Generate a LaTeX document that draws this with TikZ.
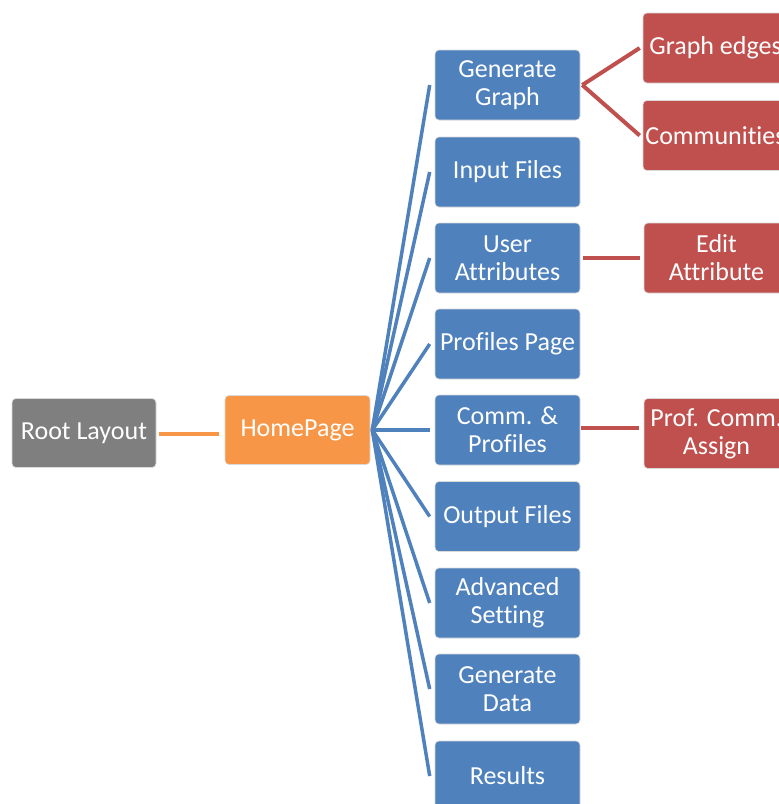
\documentclass[tikz,border=0pt]{standalone}
\usepackage{fontspec}
\setmainfont[Ligatures=NoCommon]{Carlito}
\definecolor{cblue}{HTML}{4F81BD}
\definecolor{cred}{HTML}{C0504D}
\definecolor{corange}{HTML}{F79646}
\definecolor{cgray}{HTML}{7F7F7F}
\begin{document}
\begin{tikzpicture}[x=1pt,y=-1pt,
  box/.style={draw=white!85!black,line width=0.6pt,rounded corners=4pt,minimum width=145pt,minimum height=70pt,
    text=white,align=center,font=\fontsize{26}{28}\selectfont,inner sep=1pt},
  bbox/.style={box,fill=cblue},
  rbox/.style={box,fill=cred},
  bline/.style={cblue,line width=3.5pt},
  rline/.style={cred,line width=4pt},
  oline/.style={corange,line width=3.5pt}]
\useasboundingbox (0,0) rectangle (779,804);
\clip (0,0) rectangle (779,804);
\node[box,fill=cgray,minimum width=144pt,minimum height=69pt] (root) at (84,433) {Root Layout};
\node[box,fill=corange,minimum height=69pt] (hp) at (297.5,430) {HomePage};
\node[bbox] (b1) at (507.5,85) {Generate\\Graph};
\node[bbox] (b2) at (507.5,172) {Input Files};
\node[bbox] (b3) at (507.5,258) {User\\Attributes};
\node[bbox] (b4) at (507.5,344) {Profiles Page};
\node[bbox] (b5) at (507.5,430) {Comm. \&\\Profiles};
\node[bbox] (b6) at (507.5,516.5) {Output Files};
\node[bbox] (b7) at (507.5,603) {Advanced\\Setting};
\node[bbox] (b8) at (507.5,689) {Generate\\Data};
\node[bbox] (b9) at (507.5,776) {Results};
\node[rbox] (r1) at (715.5,48) {Graph edges};
\node[rbox] (r2) at (715.5,135.5) {Communities};
\node[rbox] (r3) at (716.5,258) {Edit\\Attribute};
\node[rbox] (r4) at (716.5,433.5) {Prof. Comm.\\Assign};
\draw[oline] ([shift={(3pt,-1pt)}]root.east) -- ([shift={(-6pt,-1pt)}]root.east -| hp.west);
\coordinate (hpo) at ([xshift=2pt]hp.east);
\foreach \b in {b1,b2,b3,b4,b5,b6,b7,b8,b9}
  \draw[bline] (hpo) -- ([xshift=-5pt]\b.west);
\draw[rline] ([xshift=2pt]b1.east) -- ([xshift=-3pt]r1.west);
\draw[rline] ([xshift=2pt]b1.east) -- ([xshift=-3pt]r2.west);
\draw[rline] ([xshift=3pt]b3.east) -- ([xshift=-4pt]r3.west);
\draw[rline] ([shift={(1pt,2pt)}]b5.east) -- ([shift={(-5pt,2pt)}]b5.east -| r4.west);
\end{tikzpicture}
\end{document}
